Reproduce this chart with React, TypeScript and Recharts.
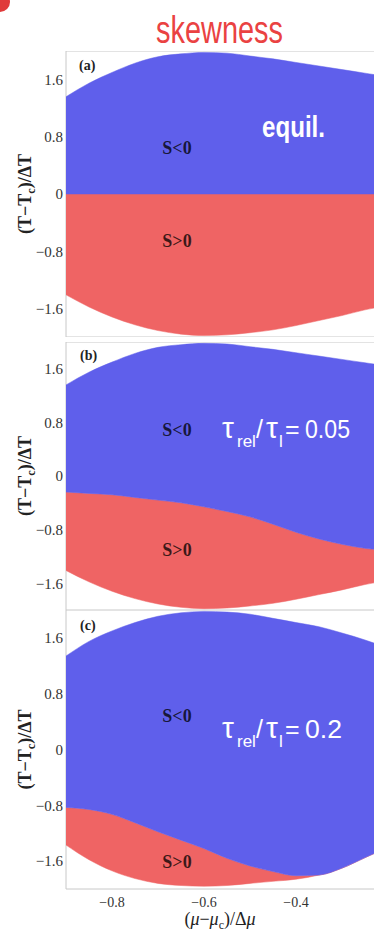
import React from 'react';
import { AreaChart, Area, XAxis, YAxis, ReferenceArea } from 'recharts';

// chemical potential grid, (mu - mu_c)/delta mu
const muGrid = [-0.9, -0.85, -0.8, -0.75, -0.7, -0.65, -0.6, -0.55, -0.5, -0.45, -0.4, -0.35, -0.3, -0.25, -0.2, -0.15, -0.1];

// outer boundary of the region, panels (a) and (b)
const upperAB = [1.36, 1.55, 1.7, 1.83, 1.92, 1.96, 1.98, 1.97, 1.93, 1.89, 1.84, 1.79, 1.74, 1.69, 1.64, 1.58, 1.51];
const lowerAB = [-1.41, -1.58, -1.72, -1.83, -1.91, -1.96, -1.98, -1.97, -1.94, -1.9, -1.84, -1.77, -1.7, -1.62, -1.56, -1.5, -1.43];
// outer boundary, panel (c)
const upperC = [1.34, 1.55, 1.7, 1.82, 1.91, 1.96, 1.98, 1.97, 1.94, 1.88, 1.82, 1.76, 1.67, 1.57, 1.45, 1.3, 1.1];
const lowerC = [-1.37, -1.58, -1.74, -1.85, -1.92, -1.95, -1.96, -1.95, -1.92, -1.89, -1.86, -1.8, -1.7, -1.55, -1.4, -1.25, -1.05];

// S = 0 line for each panel
const dividerA = [0, 0, 0, 0, 0, 0, 0, 0, 0, 0, 0, 0, 0, 0, 0, 0, 0];
const dividerB = [-0.24, -0.26, -0.28, -0.32, -0.36, -0.4, -0.46, -0.53, -0.61, -0.72, -0.84, -0.94, -1.02, -1.08, -1.11, -1.13, -1.14];
const dividerC = [-0.83, -0.86, -0.93, -1.05, -1.18, -1.3, -1.42, -1.56, -1.67, -1.75, -1.81, -1.8, -1.7, -1.55, -1.4, -1.25, -1.05];

const yTicks = [-1.6, -0.8, 0, 0.8, 1.6];
const xTicks = [-0.8, -0.6, -0.4, -0.2];

const BLUE = '#5f5feb';
const RED = '#ef6464';
const SERIF = "'Liberation Serif', 'Times New Roman', serif";
const SANS = "'Liberation Sans', Arial, sans-serif";

const fmt = (v: number) => (v < 0 ? '\u2212' + Math.abs(v) : String(v));

function buildRows(upper: number[], lower: number[], divider: number[]) {
  return muGrid.map((mu, i) => ({
    mu,
    blue: [divider[i], upper[i]],
    red: [lower[i], divider[i]],
  }));
}

const rowsA = buildRows(upperAB, lowerAB, dividerA);
const rowsB = buildRows(upperAB, lowerAB, dividerB);
const rowsC = buildRows(upperC, lowerC, dividerC);

const YTitle = (props: any) => {
  const vb = props.viewBox || { y: 0, height: 0 };
  const cy = vb.y + vb.height / 2;
  return (
    <text
      x={31}
      y={cy}
      transform={`rotate(-90, 31, ${cy})`}
      textAnchor="middle"
      fontFamily={SERIF}
      fontWeight="bold"
      fontSize={18}
      fill="#222"
    >
      (T{'\u2212'}T<tspan fontSize={12} dy={4}>c</tspan>
      <tspan dy={-4}>)/ΔT</tspan>
    </text>
  );
};

const XTitle = (props: any) => {
  const vb = props.viewBox || { x: 0, y: 0 };
  return (
    <text x={vb.x + 154} y={vb.y + 36} textAnchor="middle" fontFamily={SERIF} fontSize={18} fill="#222">
      (<tspan fontStyle="italic">μ</tspan>{'\u2212'}<tspan fontStyle="italic">μ</tspan>
      <tspan fontSize={12} dy={4}>c</tspan>
      <tspan dy={-4}>)/Δ</tspan>
      <tspan fontStyle="italic">μ</tspan>
    </text>
  );
};

type PanelProps = { rows: any[]; height: number; showX?: boolean };

function Panel({ rows, height, showX }: PanelProps) {
  return (
    <AreaChart width={440} height={height} data={rows} margin={{ top: 0, right: 6, bottom: 0, left: 0 }}>
      <XAxis
        type="number"
        dataKey="mu"
        domain={[-0.9, -0.1]}
        allowDataOverflow
        ticks={xTicks}
        hide={!showX}
        height={43}
        axisLine={false}
        tickLine={false}
        tickFormatter={fmt}
        tick={{ fontSize: 14, fill: '#333', fontFamily: SERIF }}
        label={<XTitle />}
      />
      <YAxis
        type="number"
        domain={[-2, 2]}
        allowDataOverflow
        ticks={yTicks}
        width={66}
        axisLine={false}
        tickLine={false}
        tickSize={1}
        tickMargin={2}
        tickFormatter={fmt}
        tick={{ fontSize: 15, fill: '#333', fontFamily: SERIF }}
        label={<YTitle />}
      />
      <ReferenceArea x1={-0.9} x2={-0.1} y1={-2} y2={2} fill="none" stroke="#c8c8c8" strokeWidth={1} />
      <Area dataKey="red" type="monotone" fill={RED} fillOpacity={1} stroke={RED} strokeWidth={0.5} isAnimationActive={false} />
      <Area dataKey="blue" type="monotone" fill={BLUE} fillOpacity={1} stroke={BLUE} strokeWidth={0.5} isAnimationActive={false} />
    </AreaChart>
  );
}

const sLabel = { fontFamily: SERIF, fontWeight: 'bold' as const, fontSize: 18, fill: 'rgba(0,0,0,0.75)', textAnchor: 'middle' as const };
const panelTag = { fontFamily: SERIF, fontWeight: 'bold' as const, fontSize: 14, fill: '#222' };

function TauLabel({ y, value, width }: { y: number; value: string; width: number }) {
  return (
    <text fontFamily={SANS} fill="#fff" fontSize={25}>
      <tspan x={222} y={y} fontSize={30}>τ</tspan>
      <tspan x={237} y={y + 9} fontSize={17}>rel</tspan>
      <tspan x={256} y={y}>/</tspan>
      <tspan x={266} y={y} fontSize={30}>τ</tspan>
      <tspan x={279} y={y + 9} fontSize={17}>l</tspan>
      <tspan x={285} y={y}>=</tspan>
      <tspan x={305} y={y} textLength={width} lengthAdjust="spacingAndGlyphs">{value}</tspan>
    </text>
  );
}

export default function App() {
  return (
    <div style={{ position: 'fixed', left: 0, top: 0, width: 374, height: 932, overflow: 'hidden', background: '#fff' }}>
      <div style={{ position: 'absolute', left: 0, top: 51 }}>
        <Panel rows={rowsA} height={286} />
      </div>
      <div style={{ position: 'absolute', left: 0, top: 342 }}>
        <Panel rows={rowsB} height={268} />
      </div>
      <div style={{ position: 'absolute', left: 0, top: 610 }}>
        <Panel rows={rowsC} height={322} showX />
      </div>
      <svg width={374} height={932} style={{ position: 'absolute', left: 0, top: 0, pointerEvents: 'none' }}>
        <circle cx={0} cy={2} r={10} fill="#e03a3a" />
        <text x={156} y={43} fontFamily={SANS} fontSize={39} fill="#ea4242" textLength={127} lengthAdjust="spacingAndGlyphs">
          skewness
        </text>

        <text x={79} y={70} {...panelTag}>(a)</text>
        <text x={80} y={360} {...panelTag}>(b)</text>
        <text x={80} y={630} {...panelTag}>(c)</text>

        <text x={177} y={154} {...sLabel}>S&lt;0</text>
        <text x={177} y={247} {...sLabel}>S&gt;0</text>
        <text x={177} y={436} {...sLabel}>S&lt;0</text>
        <text x={177} y={556} {...sLabel}>S&gt;0</text>
        <text x={177} y={722} {...sLabel}>S&lt;0</text>
        <text x={177} y={868} {...sLabel}>S&gt;0</text>

        <text x={262} y={137} fontFamily={SANS} fontWeight="bold" fontSize={30} fill="#fff" textLength={63} lengthAdjust="spacingAndGlyphs">
          equil.
        </text>
        <TauLabel y={438} value="0.05" width={45} />
        <TauLabel y={738} value="0.2" width={37} />
      </svg>
    </div>
  );
}
